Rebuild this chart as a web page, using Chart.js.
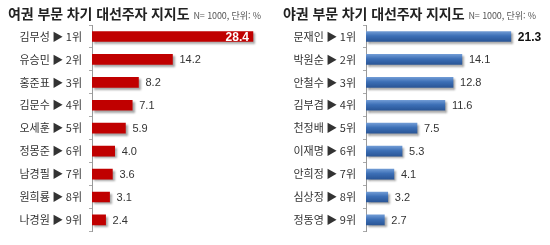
<!DOCTYPE html>
<html lang="ko">
<head>
<meta charset="UTF-8">
<title>차기 대선주자 지지도</title>
<script src="https://cdn.jsdelivr.net/npm/chart.js"></script>
<style>
  body { margin: 0; background: #fff; width: 550px; height: 245px; overflow: hidden; font-family: "Noto Sans CJK KR", sans-serif; }
  .panel { position: absolute; top: 0; width: 275px; height: 245px; }
  .panel canvas { position: absolute; left: 0; top: 0; }
  .title { position: absolute; left: 8px; top: 3px; font-size: 14px; font-weight: bold; color: #222; white-space: nowrap; letter-spacing: -0.1px; }
  .title span { font-size: 9px; font-weight: normal; color: #555; margin-left: 4px; }
</style>
</head>
<body>
<div class="panel" style="left:0">
  <canvas id="leftChart" width="275" height="245"></canvas>
  <div class="title">여권 부문 차기 대선주자 지지도<span>N= 1000, 단위: %</span></div>
</div>
<div class="panel" style="left:275px">
  <canvas id="rightChart" width="275" height="245"></canvas>
  <div class="title">야권 부문 차기 대선주자 지지도<span>N= 1000, 단위: %</span></div>
</div>
<script>
// 데이터
const ranks = ['1위', '2위', '3위', '4위', '5위', '6위', '7위', '8위', '9위'];
const leftNames = ['김무성', '유승민', '홍준표', '김문수', '오세훈', '정몽준', '남경필', '원희룡', '나경원'];
const leftValues = [28.4, 14.2, 8.2, 7.1, 5.9, 4.0, 3.6, 3.1, 2.4];
const rightNames = ['문재인', '박원순', '안철수', '김부겸', '천정배', '이재명', '안희정', '심상정', '정동영'];
const rightValues = [21.3, 14.1, 12.8, 11.6, 7.5, 5.3, 4.1, 3.2, 2.7];

// 막대 그림자
const shadowPlugin = {
  id: 'barShadow',
  beforeDatasetsDraw(chart) {
    const ctx = chart.ctx;
    ctx.save();
    ctx.shadowColor = 'rgba(0,0,0,0.35)';
    ctx.shadowOffsetX = 2;
    ctx.shadowOffsetY = 2;
    ctx.shadowBlur = 2;
  },
  afterDatasetsDraw(chart) {
    chart.ctx.restore();
  }
};

// 값 라벨
const valuePlugin = {
  id: 'valueLabels',
  afterDraw(chart) {
    const ctx = chart.ctx;
    const meta = chart.getDatasetMeta(0);
    const opts = chart.options.plugins.valueLabels;
    ctx.save();
    ctx.textBaseline = 'middle';
    meta.data.forEach((bar, i) => {
      const v = chart.data.datasets[0].data[i].toFixed(1);
      if (i === 0 && opts.firstInside) {
        ctx.font = 'bold 12px "Liberation Sans", Arial, sans-serif';
        ctx.fillStyle = '#fff';
        ctx.textAlign = 'right';
        ctx.fillText(v, bar.x - 4, bar.y + 1);
      } else {
        ctx.font = (i === 0 ? 'bold 12px' : '11px') + ' "Liberation Sans", Arial, sans-serif';
        ctx.fillStyle = i === 0 ? '#111' : '#333';
        ctx.textAlign = 'left';
        ctx.fillText(v, bar.x + 7, bar.y + 1);
      }
    });
    ctx.restore();
  }
};

function makeChart(id, names, values, xMax, axisWidth, color, firstInside) {
  const labels = names.map((n, i) => n + ' ▶ ' + ranks[i]);
  return new Chart(document.getElementById(id), {
    type: 'bar',
    data: {
      labels: labels,
      datasets: [{
        data: values,
        backgroundColor: color,
        barThickness: 10,
        borderWidth: 0
      }]
    },
    options: {
      indexAxis: 'y',
      responsive: false,
      animation: false,
      layout: { padding: { top: 25, bottom: 5, left: 0, right: 275 - axisWidth - 170 } },
      scales: {
        x: { display: false, min: 0, max: xMax },
        y: {
          afterFit(scale) { scale.width = axisWidth; },
          grid: { drawOnChartArea: false, drawTicks: true, tickLength: 3, color: '#aaa' },
          border: { display: true, color: '#999' },
          ticks: { padding: 7, color: '#333', font: { family: '"Noto Sans CJK KR", sans-serif', size: 11 } }
        }
      },
      plugins: {
        legend: { display: false },
        tooltip: { enabled: false },
        valueLabels: { firstInside: firstInside }
      }
    },
    plugins: [shadowPlugin, valuePlugin]
  });
}

// 파란 막대 그라데이션
function blueGradient(context) {
  const chart = context.chart;
  const y = chart.scales.y ? chart.scales.y.getPixelForValue(context.dataIndex) : NaN;
  if (!Number.isFinite(y)) return '#3c6fb6';
  const g = chart.ctx.createLinearGradient(0, y - 5, 0, y + 5);
  g.addColorStop(0, '#6f9ad4');
  g.addColorStop(0.45, '#3c6fb6');
  g.addColorStop(1, '#2a5697');
  return g;
}

makeChart('leftChart', leftNames, leftValues, 30, 92, '#c00000', true);
makeChart('rightChart', rightNames, rightValues, 25, 91, blueGradient, false);
</script>
</body>
</html>
